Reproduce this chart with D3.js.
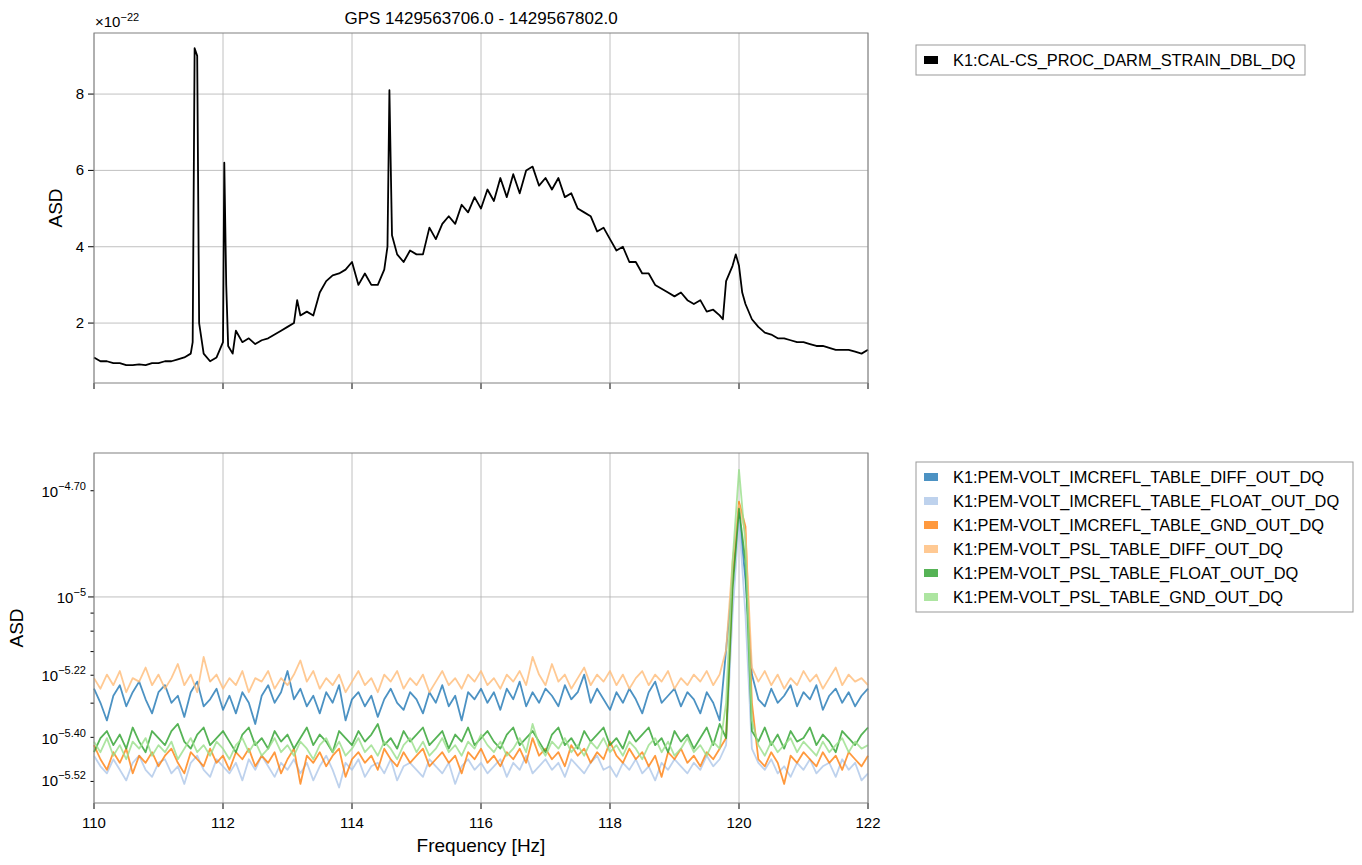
<!DOCTYPE html>
<html><head><meta charset="utf-8">
<script src="https://cdn.jsdelivr.net/npm/d3@7"></script>
<style>body{margin:0;background:#fff}svg{font-family:"Liberation Sans",Arial,sans-serif}</style>
</head><body><svg id="c" width="1362" height="865"></svg>
<script>
const title = "GPS 1429563706.0 - 1429567802.0";
const topName = "K1:CAL-CS_PROC_DARM_STRAIN_DBL_DQ";
const topFreq = [110.0,110.1,110.2,110.3,110.4,110.5,110.6,110.7,110.8,110.9,111.0,111.1,111.2,111.3,111.4,111.5,111.53,111.56,111.6,111.63,111.7,111.8,111.9,112.0,112.02,112.05,112.08,112.15,112.2,112.3,112.4,112.5,112.6,112.7,112.8,112.9,113.0,113.1,113.15,113.2,113.3,113.4,113.5,113.6,113.7,113.8,113.9,114.0,114.1,114.2,114.3,114.4,114.5,114.55,114.58,114.62,114.7,114.8,114.9,115.0,115.1,115.2,115.3,115.4,115.5,115.6,115.7,115.8,115.9,116.0,116.1,116.2,116.3,116.4,116.5,116.6,116.7,116.8,116.9,117.0,117.1,117.2,117.3,117.4,117.5,117.6,117.7,117.8,117.9,118.0,118.1,118.2,118.3,118.4,118.5,118.6,118.7,118.8,118.9,119.0,119.1,119.2,119.3,119.4,119.5,119.6,119.7,119.75,119.8,119.9,119.95,120.0,120.05,120.1,120.2,120.3,120.4,120.5,120.6,120.7,120.8,120.9,121.0,121.1,121.2,121.3,121.4,121.5,121.6,121.7,121.8,121.9,122.0];
const topASD = [1.1,1.0,1.0,0.95,0.95,0.9,0.9,0.92,0.9,0.95,0.95,1.0,1.0,1.05,1.1,1.2,1.5,9.2,9.0,2.0,1.2,1.0,1.1,1.5,6.2,3.0,1.4,1.2,1.8,1.5,1.6,1.45,1.55,1.6,1.7,1.8,1.9,2.0,2.6,2.2,2.3,2.2,2.8,3.1,3.25,3.3,3.4,3.6,3.0,3.3,3.0,3.0,3.4,4.0,8.1,4.3,3.8,3.6,3.9,3.8,3.8,4.5,4.2,4.6,4.8,4.6,5.1,4.9,5.3,5.0,5.5,5.2,5.8,5.3,5.9,5.4,6.0,6.1,5.6,5.8,5.5,5.8,5.3,5.4,5.0,4.9,4.8,4.4,4.5,4.2,3.9,4.0,3.6,3.6,3.3,3.3,3.0,2.9,2.8,2.7,2.8,2.6,2.5,2.6,2.3,2.35,2.2,2.1,3.1,3.5,3.8,3.5,2.8,2.5,2.1,1.9,1.75,1.7,1.6,1.6,1.55,1.5,1.5,1.45,1.4,1.4,1.35,1.3,1.3,1.3,1.25,1.2,1.3];
const bottomNames = ["K1:PEM-VOLT_IMCREFL_TABLE_DIFF_OUT_DQ","K1:PEM-VOLT_IMCREFL_TABLE_FLOAT_OUT_DQ","K1:PEM-VOLT_IMCREFL_TABLE_GND_OUT_DQ","K1:PEM-VOLT_PSL_TABLE_DIFF_OUT_DQ","K1:PEM-VOLT_PSL_TABLE_FLOAT_OUT_DQ","K1:PEM-VOLT_PSL_TABLE_GND_OUT_DQ"];
const bottomColors = ["#1f77b4","#aec7e8","#ff7f0e","#ffbb78","#2ca02c","#98df8a"];
// log10 ASD every 0.1 Hz from 110 to 122
const imcDiff = [-5.26,-5.30,-5.35,-5.28,-5.25,-5.31,-5.27,-5.24,-5.29,-5.33,-5.27,
-5.25,-5.30,-5.28,-5.34,-5.27,-5.24,-5.31,-5.29,-5.26,-5.32,
-5.28,-5.33,-5.27,-5.30,-5.36,-5.28,-5.25,-5.30,-5.27,-5.21,
-5.29,-5.26,-5.31,-5.28,-5.33,-5.27,-5.30,-5.25,-5.35,-5.29,
-5.27,-5.31,-5.28,-5.34,-5.29,-5.26,-5.30,-5.32,-5.27,-5.29,
-5.33,-5.27,-5.30,-5.25,-5.31,-5.28,-5.35,-5.27,-5.29,-5.26,
-5.30,-5.27,-5.32,-5.26,-5.29,-5.24,-5.31,-5.27,-5.30,-5.26,
-5.28,-5.31,-5.25,-5.29,-5.27,-5.22,-5.30,-5.26,-5.29,-5.32,
-5.27,-5.30,-5.26,-5.29,-5.33,-5.27,-5.24,-5.30,-5.28,-5.26,
-5.31,-5.27,-5.29,-5.33,-5.27,-5.30,-5.35,-5.15,-4.95,-4.76,
-4.95,-5.22,-5.29,-5.31,-5.26,-5.30,-5.28,-5.25,-5.31,-5.27,
-5.29,-5.25,-5.32,-5.28,-5.26,-5.30,-5.27,-5.31,-5.28,-5.26];
const imcFloat = [-5.45,-5.48,-5.50,-5.46,-5.49,-5.52,-5.47,-5.45,-5.49,-5.51,-5.47,
-5.46,-5.50,-5.48,-5.53,-5.47,-5.45,-5.49,-5.51,-5.46,-5.48,
-5.50,-5.47,-5.52,-5.46,-5.49,-5.45,-5.48,-5.51,-5.47,-5.49,
-5.46,-5.50,-5.47,-5.52,-5.48,-5.45,-5.49,-5.54,-5.47,-5.49,
-5.46,-5.51,-5.48,-5.47,-5.50,-5.46,-5.52,-5.48,-5.47,-5.49,
-5.51,-5.46,-5.48,-5.50,-5.47,-5.53,-5.48,-5.46,-5.49,-5.47,
-5.50,-5.48,-5.46,-5.51,-5.47,-5.49,-5.45,-5.50,-5.48,-5.46,
-5.49,-5.47,-5.51,-5.46,-5.48,-5.50,-5.47,-5.45,-5.49,-5.48,
-5.51,-5.47,-5.49,-5.46,-5.50,-5.48,-5.52,-5.47,-5.49,-5.46,
-5.48,-5.50,-5.47,-5.49,-5.45,-5.48,-5.46,-5.42,-5.05,-4.78,
-5.05,-5.43,-5.47,-5.49,-5.46,-5.50,-5.48,-5.51,-5.47,-5.49,
-5.46,-5.50,-5.48,-5.47,-5.51,-5.46,-5.49,-5.47,-5.52,-5.50];
const imcGnd = [-5.42,-5.46,-5.49,-5.44,-5.47,-5.43,-5.50,-5.45,-5.47,-5.44,-5.48,
-5.45,-5.43,-5.47,-5.50,-5.44,-5.46,-5.48,-5.43,-5.47,-5.45,
-5.49,-5.44,-5.46,-5.43,-5.48,-5.45,-5.47,-5.44,-5.50,-5.46,
-5.43,-5.53,-5.45,-5.47,-5.44,-5.48,-5.45,-5.43,-5.51,-5.46,
-5.44,-5.47,-5.45,-5.49,-5.43,-5.46,-5.48,-5.44,-5.47,-5.45,
-5.43,-5.48,-5.46,-5.44,-5.47,-5.45,-5.50,-5.44,-5.46,-5.43,
-5.47,-5.45,-5.48,-5.44,-5.46,-5.43,-5.47,-5.40,-5.45,-5.43,
-5.46,-5.44,-5.48,-5.42,-5.45,-5.43,-5.47,-5.44,-5.46,-5.41,
-5.45,-5.47,-5.43,-5.46,-5.44,-5.48,-5.45,-5.51,-5.44,-5.46,
-5.43,-5.47,-5.45,-5.48,-5.44,-5.46,-5.43,-5.40,-4.95,-4.73,
-4.80,-5.30,-5.46,-5.48,-5.44,-5.47,-5.53,-5.45,-5.47,-5.44,
-5.46,-5.48,-5.44,-5.47,-5.45,-5.49,-5.44,-5.46,-5.48,-5.45];
const pslDiff = [-5.23,-5.26,-5.22,-5.25,-5.21,-5.27,-5.23,-5.24,-5.20,-5.25,-5.22,
-5.26,-5.23,-5.19,-5.25,-5.22,-5.27,-5.17,-5.24,-5.22,-5.26,
-5.23,-5.25,-5.21,-5.27,-5.23,-5.24,-5.21,-5.26,-5.23,-5.25,
-5.22,-5.18,-5.24,-5.21,-5.26,-5.23,-5.25,-5.22,-5.27,-5.24,
-5.21,-5.25,-5.23,-5.27,-5.22,-5.24,-5.21,-5.26,-5.23,-5.25,
-5.22,-5.27,-5.24,-5.21,-5.25,-5.23,-5.26,-5.22,-5.24,-5.21,
-5.25,-5.23,-5.26,-5.22,-5.24,-5.21,-5.25,-5.17,-5.22,-5.25,
-5.19,-5.24,-5.22,-5.26,-5.23,-5.20,-5.25,-5.22,-5.24,-5.21,
-5.25,-5.22,-5.26,-5.23,-5.21,-5.25,-5.22,-5.24,-5.21,-5.26,
-5.23,-5.25,-5.22,-5.24,-5.21,-5.25,-5.22,-5.15,-4.90,-4.74,
-4.82,-5.20,-5.24,-5.21,-5.25,-5.22,-5.26,-5.23,-5.25,-5.21,
-5.24,-5.22,-5.26,-5.23,-5.20,-5.25,-5.22,-5.24,-5.23,-5.25];
const pslFloat = [-5.44,-5.40,-5.38,-5.42,-5.39,-5.43,-5.37,-5.41,-5.44,-5.38,-5.40,
-5.42,-5.38,-5.36,-5.41,-5.43,-5.39,-5.37,-5.42,-5.40,-5.38,
-5.41,-5.44,-5.39,-5.37,-5.42,-5.40,-5.43,-5.38,-5.41,-5.39,
-5.43,-5.40,-5.37,-5.42,-5.39,-5.41,-5.44,-5.38,-5.40,-5.42,
-5.38,-5.41,-5.39,-5.36,-5.42,-5.40,-5.43,-5.38,-5.41,-5.39,
-5.37,-5.42,-5.40,-5.38,-5.43,-5.39,-5.41,-5.37,-5.42,-5.40,
-5.38,-5.41,-5.43,-5.39,-5.37,-5.42,-5.40,-5.38,-5.41,-5.44,
-5.39,-5.37,-5.42,-5.40,-5.43,-5.38,-5.41,-5.39,-5.37,-5.42,
-5.40,-5.43,-5.38,-5.41,-5.39,-5.37,-5.42,-5.40,-5.44,-5.38,
-5.41,-5.39,-5.43,-5.40,-5.37,-5.42,-5.36,-5.40,-4.98,-4.75,
-4.90,-5.38,-5.41,-5.37,-5.42,-5.39,-5.43,-5.38,-5.41,-5.40,
-5.37,-5.42,-5.39,-5.41,-5.44,-5.38,-5.40,-5.42,-5.39,-5.37];
const pslGnd = [-5.41,-5.44,-5.40,-5.45,-5.42,-5.46,-5.41,-5.43,-5.40,-5.45,-5.42,
-5.44,-5.41,-5.46,-5.43,-5.40,-5.44,-5.42,-5.45,-5.41,-5.43,
-5.46,-5.42,-5.40,-5.44,-5.41,-5.45,-5.43,-5.40,-5.44,-5.42,
-5.45,-5.41,-5.43,-5.46,-5.42,-5.40,-5.44,-5.41,-5.45,-5.43,
-5.40,-5.44,-5.42,-5.45,-5.41,-5.43,-5.46,-5.42,-5.40,-5.44,
-5.41,-5.45,-5.43,-5.40,-5.44,-5.42,-5.45,-5.41,-5.43,-5.39,
-5.42,-5.44,-5.41,-5.45,-5.43,-5.40,-5.44,-5.36,-5.42,-5.45,
-5.41,-5.43,-5.40,-5.44,-5.42,-5.45,-5.41,-5.43,-5.40,-5.44,
-5.42,-5.45,-5.41,-5.43,-5.46,-5.42,-5.40,-5.44,-5.41,-5.45,
-5.43,-5.40,-5.44,-5.42,-5.45,-5.41,-5.43,-5.30,-4.90,-4.64,
-4.85,-5.35,-5.42,-5.45,-5.41,-5.44,-5.42,-5.40,-5.44,-5.41,
-5.43,-5.45,-5.41,-5.44,-5.42,-5.40,-5.44,-5.41,-5.43,-5.42];
const bottomSeries = [imcDiff, imcFloat, imcGnd, pslDiff, pslFloat, pslGnd];
const xTicks = [110,112,114,116,118,120,122];
const topYTicks = [2,4,6,8];
const botMinor = [3e-6,4e-6,5e-6,6e-6,7e-6,8e-6,9e-6,2e-5];
const botLabels = [{v:Math.pow(10,-4.70),e:"−4.70"},{v:1e-5,e:"−5"},{v:Math.pow(10,-5.22),e:"−5.22"},{v:Math.pow(10,-5.40),e:"−5.40"},{v:Math.pow(10,-5.52),e:"−5.52"}];

const svg = d3.select("#c");
const L=94,R=868;
const x = d3.scaleLinear().domain([110,122]).range([L,R]);
const yT = d3.scaleLinear().domain([0.43,9.6]).range([383,33]);
const yB = d3.scaleLog().domain([Math.pow(10,-5.584),Math.pow(10,-4.592)]).range([803,453]);
const grid="#b0b0b0";

function frame(top,bot){
  svg.append("rect").attr("x",L).attr("y",top).attr("width",R-L).attr("height",bot-top).attr("fill","none").attr("stroke","#808080").attr("stroke-width",1);
}
xTicks.forEach(t=>{
  svg.append("line").attr("x1",x(t)).attr("x2",x(t)).attr("y1",33).attr("y2",383).attr("stroke",grid).attr("stroke-width",0.8);
  svg.append("line").attr("x1",x(t)).attr("x2",x(t)).attr("y1",453).attr("y2",803).attr("stroke",grid).attr("stroke-width",0.8);
  svg.append("line").attr("x1",x(t)).attr("x2",x(t)).attr("y1",383).attr("y2",389).attr("stroke","#000");
  svg.append("line").attr("x1",x(t)).attr("x2",x(t)).attr("y1",803).attr("y2",809).attr("stroke","#000");
  svg.append("text").attr("x",x(t)).attr("y",828).attr("text-anchor","middle").attr("font-size",15).text(t);
});
topYTicks.forEach(t=>{
  svg.append("line").attr("x1",L).attr("x2",R).attr("y1",yT(t)).attr("y2",yT(t)).attr("stroke",grid).attr("stroke-width",0.8);
  svg.append("line").attr("x1",L-6).attr("x2",L).attr("y1",yT(t)).attr("y2",yT(t)).attr("stroke","#000");
  svg.append("text").attr("x",L-10).attr("y",yT(t)+5).attr("text-anchor","end").attr("font-size",15).text(t);
});
svg.append("line").attr("x1",L).attr("x2",R).attr("y1",yB(1e-5)).attr("y2",yB(1e-5)).attr("stroke",grid).attr("stroke-width",0.8);
botMinor.forEach(v=>{
  svg.append("line").attr("x1",L-3.5).attr("x2",L).attr("y1",yB(v)).attr("y2",yB(v)).attr("stroke","#000");
});
svg.append("line").attr("x1",L-6).attr("x2",L).attr("y1",yB(1e-5)).attr("y2",yB(1e-5)).attr("stroke","#000");
botLabels.forEach(d=>{
  const tx=svg.append("text").attr("x",L-8).attr("y",yB(d.v)+6).attr("text-anchor","end").attr("font-size",15);
  tx.append("tspan").text("10");
  tx.append("tspan").attr("dy",-7).attr("font-size",11).text(d.e);
});
const lineT = d3.line().x((d,i)=>x(topFreq[i])).y(d=>yT(d));
svg.append("path").attr("d",lineT(topASD)).attr("fill","none").attr("stroke","#000").attr("stroke-width",1.8).attr("stroke-linejoin","round");
const lineB = d3.line().x((d,i)=>x(110+i*0.1)).y(d=>yB(Math.pow(10,d)));
bottomSeries.forEach((s,k)=>{
  svg.append("path").attr("d",lineB(s)).attr("fill","none").attr("stroke",bottomColors[k]).attr("stroke-width",1.8).attr("opacity",0.8).attr("stroke-linejoin","round");
});
frame(33,383); frame(453,803);
svg.append("text").attr("x",481).attr("y",24).attr("text-anchor","middle").attr("font-size",17).text(title);
const m=svg.append("text").attr("x",95).attr("y",27).attr("font-size",15);
m.append("tspan").text("×10"); m.append("tspan").attr("dy",-6).attr("font-size",11).text("−22");
svg.append("text").attr("transform","translate(62,208) rotate(-90)").attr("text-anchor","middle").attr("font-size",19).text("ASD");
svg.append("text").attr("transform","translate(23,628) rotate(-90)").attr("text-anchor","middle").attr("font-size",19).text("ASD");
svg.append("text").attr("x",481).attr("y",852).attr("text-anchor","middle").attr("font-size",19).text("Frequency [Hz]");
function legend(x0,y0,w,names,colors,op){
  const h=names.length*24+6;
  svg.append("rect").attr("x",x0).attr("y",y0).attr("width",w).attr("height",h).attr("fill","#fff").attr("stroke","#999");
  names.forEach((n,i)=>{
    const cy=y0+15+i*24;
    svg.append("rect").attr("x",x0+8).attr("y",cy-4).attr("width",14).attr("height",8).attr("fill",colors[i]).attr("opacity",op);
    svg.append("text").attr("x",x0+37).attr("y",cy+6).attr("font-size",16.4).text(n);
  });
}
legend(916,45,389,[topName],["#000"],1);
legend(916,462,437,bottomNames,bottomColors,0.8);
</script></body></html>
